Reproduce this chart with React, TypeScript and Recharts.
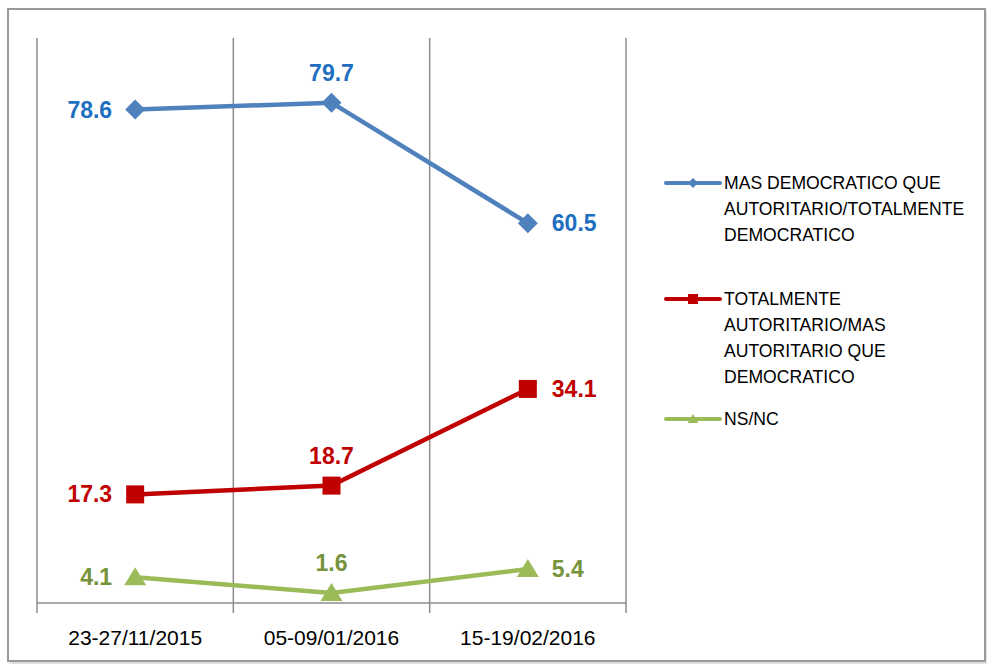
import React from 'react';
import { LineChart, Line, XAxis, YAxis, ReferenceLine, LabelList } from 'recharts';

const categories = ['23-27/11/2015', '05-09/01/2016', '15-19/02/2016'];
const democratico = [78.6, 79.7, 60.5];
const autoritario = [17.3, 18.7, 34.1];
const nsnc = [4.1, 1.6, 5.4];
const labelSides = ['left', 'top', 'right'];

const series = [
  {
    key: 'dem',
    values: democratico,
    color: '#4F81BD',
    labelColor: '#1F6FC0',
    shape: 'diamond',
    legend: ['MAS DEMOCRATICO QUE', 'AUTORITARIO/TOTALMENTE', 'DEMOCRATICO'],
  },
  {
    key: 'aut',
    values: autoritario,
    color: '#C00000',
    labelColor: '#C00000',
    shape: 'square',
    legend: ['TOTALMENTE', 'AUTORITARIO/MAS', 'AUTORITARIO QUE', 'DEMOCRATICO'],
  },
  {
    key: 'ns',
    values: nsnc,
    color: '#9BBB59',
    labelColor: '#77933C',
    shape: 'triangle',
    legend: ['NS/NC'],
  },
];

const data = categories.map((c, i) => ({
  x: i + 0.5,
  dem: democratico[i],
  aut: autoritario[i],
  ns: nsnc[i],
}));

const FONT = '"Liberation Sans", Arial, sans-serif';

function Marker({ cx, cy, shape, color, size }: any) {
  if (cx == null || cy == null) return null;
  const s = size;
  if (shape === 'diamond') {
    return <polygon points={`${cx},${cy - s} ${cx + s},${cy} ${cx},${cy + s} ${cx - s},${cy}`} fill={color} />;
  }
  if (shape === 'square') {
    return <rect x={cx - s} y={cy - s} width={s * 2} height={s * 2} fill={color} />;
  }
  return <polygon points={`${cx},${cy - s} ${cx + s * 1.1},${cy + s * 0.8} ${cx - s * 1.1},${cy + s * 0.8}`} fill={color} />;
}

const makeLabel = (color: string) => (props: any) => {
  const { x, y, value, index } = props;
  const side = labelSides[index];
  let tx = x;
  let ty = y;
  let anchor: any = 'middle';
  if (side === 'left') {
    tx = x - 23;
    anchor = 'end';
  } else if (side === 'right') {
    tx = x + 24;
    anchor = 'start';
  } else {
    ty = y - 30;
  }
  return (
    <text x={tx} y={ty} dy={8} textAnchor={anchor} fill={color} fontSize={23} fontWeight="bold" fontFamily={FONT}>
      {value.toFixed(1)}
    </text>
  );
};

function LegendBox() {
  const tops = [170, 286, 406];
  return (
    <>
      {series.map((s, i) => (
        <div key={s.key} style={{ position: 'absolute', left: 664, top: tops[i], fontFamily: FONT, fontSize: 17.6, lineHeight: '26px', color: '#000' }}>
          <svg width={58} height={26} style={{ position: 'absolute', left: 0, top: 0 }}>
            <line x1={2} y1={13} x2={56} y2={13} stroke={s.color} strokeWidth={4} strokeLinecap="round" />
            <Marker cx={29} cy={13} shape={s.shape} color={s.color} size={5} />
          </svg>
          <div style={{ marginLeft: 60, whiteSpace: 'nowrap' }}>
            {s.legend.map((l) => (
              <div key={l}>{l}</div>
            ))}
          </div>
        </div>
      ))}
    </>
  );
}

export default function App() {
  return (
    <div style={{ position: 'absolute', left: 0, top: 0, width: 987, height: 664, background: '#fff' }}>
      <div style={{ position: 'absolute', left: 7, top: 8, width: 975, height: 650, border: '2px solid #9a9a9a', boxShadow: '2px 3px 3px #ddd' }} />
      <div style={{ position: 'absolute', left: 0, top: 0 }}>
        <LineChart width={987} height={664} data={data} margin={{ top: 38, left: 37, right: 361, bottom: 31 }}>
          <YAxis hide domain={[0, 90]} type="number" />
          <XAxis
            dataKey="x"
            type="number"
            domain={[0, 3]}
            ticks={[0.5, 1.5, 2.5]}
            tickFormatter={(v: number) => categories[Math.floor(v)]}
            axisLine={{ stroke: '#8c8c8c', strokeWidth: 1.5 }}
            tickLine={false}
            tick={{ fill: '#000', fontSize: 21, fontFamily: FONT, dy: 19 }}
          />
          {[0, 1, 2, 3].map((v) => (
            <ReferenceLine
              key={v}
              segment={[{ x: v, y: -1.6 }, { x: v, y: 90 }]}
              stroke="#8c8c8c"
              strokeWidth={1.5}
              ifOverflow="visible"
            />
          ))}
          {series.map((s) => (
            <Line
              key={s.key}
              dataKey={s.key}
              stroke={s.color}
              strokeWidth={4.5}
              isAnimationActive={false}
              dot={(p: any) => <Marker key={`${s.key}-${p.index}`} cx={p.cx} cy={p.cy} shape={s.shape} color={s.color} size={s.shape === 'square' ? 9 : 10} />}
              activeDot={false}
            >
              <LabelList dataKey={s.key} content={makeLabel(s.labelColor)} />
            </Line>
          ))}
        </LineChart>
      </div>
      <LegendBox />
    </div>
  );
}
